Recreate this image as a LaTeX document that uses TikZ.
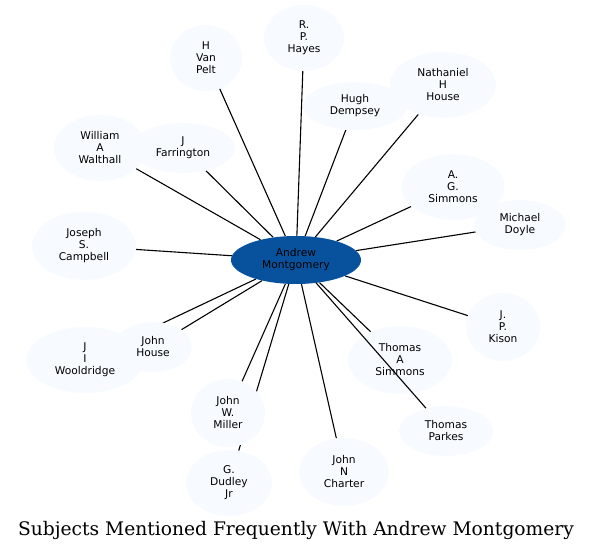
\documentclass[tikz,border=0pt]{standalone}
\usepackage{fontspec}
\newfontfamily\dejavu{DejaVu Sans}
\newfontfamily\dejavuserif{DejaVu Serif}
\usetikzlibrary{
  shapes.geometric,
  backgrounds
}
\definecolor{hubblue}{HTML}{08519C}
\definecolor{leafblue}{HTML}{F7FBFF}
\tikzset{
  hubnode/.style={ellipse,fill=hubblue,draw=none,inner sep=0pt,align=center,
    minimum width=130pt,minimum height=48pt,font=\dejavu\fontsize{10.67}{12}\selectfont},
  leafnode/.style 2 args={ellipse,fill=leafblue,draw=none,inner sep=0pt,align=center,
    minimum width=#1,minimum height=#2,font=\dejavu\fontsize{10.67}{12}\selectfont},
  link/.style={draw=black,line width=1.1pt}
}

\begin{document}
\begin{tikzpicture}[x=1pt,y=-1pt]
  \useasboundingbox (0,0) rectangle (592,553);

  % Central subject
  \node[hubnode] (hub) at (296,260) {Andrew\\Montgomery};

  % Related subjects (drawing order decides overlaps)
  \node[leafnode={80pt}{66pt}] (hayes) at (304,38) {R.\\P.\\Hayes};
  \node[leafnode={72pt}{66pt}] (vanpelt) at (206,58) {H\\Van\\Pelt};
  \node[leafnode={104pt}{48pt}] (dempsey) at (355,106) {Hugh\\Dempsey};
  \node[leafnode={106pt}{66pt}] (nhouse) at (443,85) {Nathaniel\\H\\House};
  \node[leafnode={92pt}{66pt}] (walthall) at (100,148) {William\\A\\Walthall};
  \node[leafnode={104pt}{50pt}] (farrington) at (183,148) {J\\Farrington};
  \node[leafnode={103pt}{66pt}] (agsimmons) at (453,187) {A.\\G.\\Simmons};
  \node[leafnode={92pt}{50pt}] (doyle) at (520,225) {Michael\\Doyle};
  \node[leafnode={104pt}{68pt}] (campbell) at (84,246) {Joseph\\S.\\Campbell};
  \node[leafnode={74pt}{68pt}] (kison) at (503,327) {J.\\P.\\Kison};
  \node[leafnode={118pt}{66pt}] (wooldridge) at (85,360) {J\\I\\Wooldridge};
  \node[leafnode={78pt}{50pt}] (jhouse) at (153,347) {John\\House};
  \node[leafnode={104pt}{68pt}] (tasimmons) at (400,360) {Thomas\\A\\Simmons};
  \node[leafnode={94pt}{50pt}] (parkes) at (446,431) {Thomas\\Parkes};
  \node[leafnode={90pt}{68pt}] (charter) at (344,472) {John\\N\\Charter};
  \node[leafnode={86pt}{66pt}] (dudley) at (229,483) {G.\\Dudley\\Jr};
  \node[leafnode={74pt}{68pt}] (miller) at (228,413) {John\\W.\\Miller};

  % Connectors behind the nodes
  \begin{scope}[on background layer]
    \foreach \leaf in {hayes,vanpelt,dempsey,nhouse,walthall,farrington,agsimmons,doyle,
      campbell,kison,wooldridge,jhouse,tasimmons,charter,dudley,miller}{
      \draw[link] (hub) -- (\leaf);
    }
  \end{scope}
  % this one runs over Thomas A Simmons
  \draw[link] (hub) -- (parkes);

  % Title
  \node[font=\dejavuserif\fontsize{18.67}{22}\selectfont] (title) at (296,530)
    {Subjects Mentioned Frequently With Andrew Montgomery};

\end{tikzpicture}
\end{document}
